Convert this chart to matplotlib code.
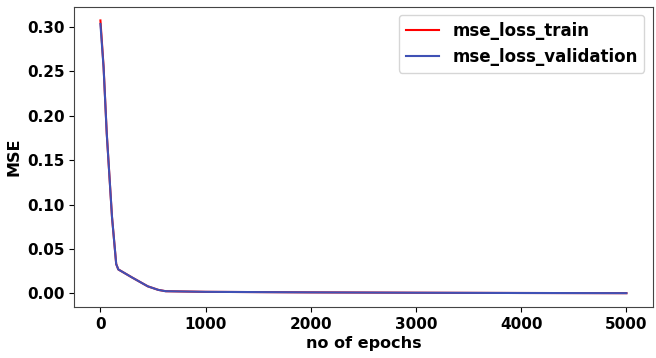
import matplotlib.pyplot as plt

# loss history sampled at a few epochs
epochs = [0, 30, 60, 110, 150, 170, 300, 450, 550, 620, 1000, 2000, 3000, 4000, 5000]
mse_train = [0.307, 0.255, 0.180, 0.086, 0.033, 0.027, 0.018, 0.008, 0.004, 0.0025,
             0.0018, 0.0012, 0.0008, 0.0005, 0.0003]
mse_val = [0.303, 0.254, 0.180, 0.086, 0.033, 0.027, 0.018, 0.008, 0.004, 0.0025,
           0.0018, 0.0012, 0.0008, 0.0005, 0.0003]

fig = plt.figure(figsize=(6.56, 3.58), dpi=100)
ax = fig.add_axes([0.113, 0.143, 0.882, 0.838])

ax.plot(epochs, mse_train, color='red', linewidth=1.5, label='mse_loss_train')
ax.plot(epochs, mse_val, color='#3f51b5', linewidth=1.5, label='mse_loss_validation')

ax.set_xlabel('no of epochs', fontsize=11.5, fontweight='bold', labelpad=3)
ax.set_ylabel('MSE', fontsize=11.5, fontweight='bold')
ax.set_xticks([0, 1000, 2000, 3000, 4000, 5000])
ax.set_yticks([0.0, 0.05, 0.10, 0.15, 0.20, 0.25, 0.30])
for lbl in ax.get_xticklabels() + ax.get_yticklabels():
    lbl.set_fontweight('bold')
    lbl.set_fontsize(11)
for sp in ax.spines.values():
    sp.set_color('#444444')

leg = ax.legend(loc='upper right', prop={'weight': 'bold', 'size': 12})

plt.savefig('out.png', dpi=100)
